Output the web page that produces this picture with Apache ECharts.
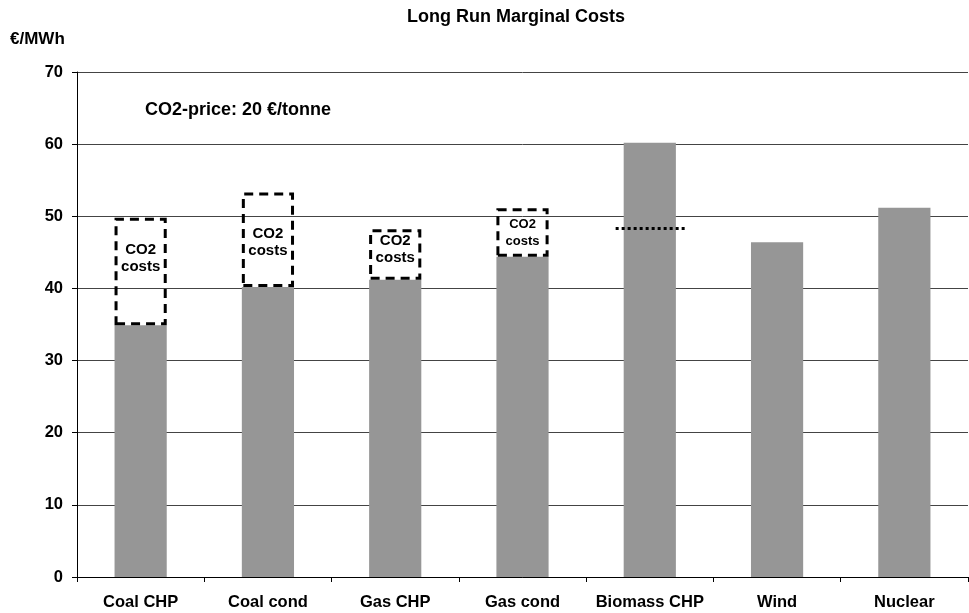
<!DOCTYPE html>
<html><head><meta charset="utf-8">
<script src="https://cdn.jsdelivr.net/npm/echarts@6/dist/echarts.min.js"></script>
<style>html,body{margin:0;padding:0;background:#fff}#c{width:969px;height:613px}</style>
</head><body><div id="c"></div>
<script>
const categories = ['Coal CHP','Coal cond','Gas CHP','Gas cond','Biomass CHP','Wind','Nuclear'];
const costValues = [34.9, 40.2, 41.2, 44.4, 60.2, 46.4, 51.2];
const co2BoxTop = [49.8, 53.3, 48.2, 51.1, null, null, null];
const biomassRefLine = [[4, 48.3]];
const yTicks = {min: 0, max: 70, interval: 10};

const co2Costs = co2BoxTop.map((t, i) => t == null ? null : +(t - costValues[i]).toFixed(2));
const FONT = '"Liberation Sans", Arial, sans-serif';
const labelTweaks = [{offset:[0,-13]}, {offset:[0,3]}, {offset:[0,-5]}, {fontSize:13, lineHeight:17, offset:[0,0]}];

const chart = echarts.init(document.getElementById('c'), null, {renderer:'canvas'});
chart.setOption({
  animation: false,
  backgroundColor: '#fff',
  textStyle: {fontFamily: FONT},
  title: [
    {text: 'Long Run Marginal Costs', left: 516, top: 8, padding: 0, textAlign: 'center',
     textStyle: {fontSize: 18, fontWeight: 'bold', color: '#000', fontFamily: FONT}},
    {text: '€/MWh', left: 10, top: 31, padding: 0,
     textStyle: {fontSize: 17, fontWeight: 'bold', color: '#000', fontFamily: FONT}},
    {text: 'CO2-price: 20 €/tonne', left: 145, top: 101, padding: 0,
     textStyle: {fontSize: 18, fontWeight: 'bold', color: '#000', fontFamily: FONT}}
  ],
  grid: {left: 77, right: 1, top: 72, bottom: 36, containLabel: false},
  xAxis: {
    type: 'category', data: categories, boundaryGap: true,
    axisLine: {lineStyle: {color: '#000', width: 1}},
    axisTick: {show: true, length: 5, inside: false, lineStyle: {color: '#000'}},
    axisLabel: {fontSize: 16.5, fontWeight: 'bold', color: '#000', margin: 17, interval: 0, fontFamily: FONT}
  },
  yAxis: {
    type: 'value', min: yTicks.min, max: yTicks.max, interval: yTicks.interval,
    axisLine: {show: true, lineStyle: {color: '#000', width: 1}},
    axisTick: {show: true, length: 5, lineStyle: {color: '#000'}},
    axisLabel: {fontSize: 16.5, fontWeight: 'bold', color: '#000', margin: 14, fontFamily: FONT},
    splitLine: {show: true, lineStyle: {color: '#444', width: 1}}
  },
  series: [
    {
      type: 'bar', name: 'Cost', stack: 'total', data: costValues, barWidth: '41%',
      itemStyle: {color: '#969696'}
    },
    {
      type: 'bar', name: 'CO2 costs', stack: 'total', barWidth: '41%',
      data: co2Costs.map((v, i) => {
        if (v == null) return null;
        const t = labelTweaks[i] || {};
        return {value: v, label: Object.assign({}, t.fontSize ? {fontSize: t.fontSize, lineHeight: t.lineHeight} : {}, {offset: t.offset || [0,0]})};
      }),
      itemStyle: {color: 'rgba(255,255,255,0)', borderColor: '#000', borderWidth: 3, borderType: [9, 6]},
      label: {show: true, position: 'inside', formatter: 'CO2\ncosts', fontSize: 15, lineHeight: 17,
              fontWeight: 'bold', color: '#000', fontFamily: FONT},
      z: 3
    },
    {
      type: 'custom', name: 'ref', data: biomassRefLine, z: 4,
      renderItem: function (params, api) {
        const p = api.coord([api.value(0), api.value(1)]);
        const w = api.size([1, 0])[0] * 0.56;
        return {type: 'line', shape: {x1: p[0] - w / 2 + 1.5, y1: p[1], x2: p[0] + w / 2 + 1.5, y2: p[1]},
                style: {stroke: '#000', lineWidth: 3, lineDash: [3, 3]}};
      }
    }
  ]
});
</script></body></html>
